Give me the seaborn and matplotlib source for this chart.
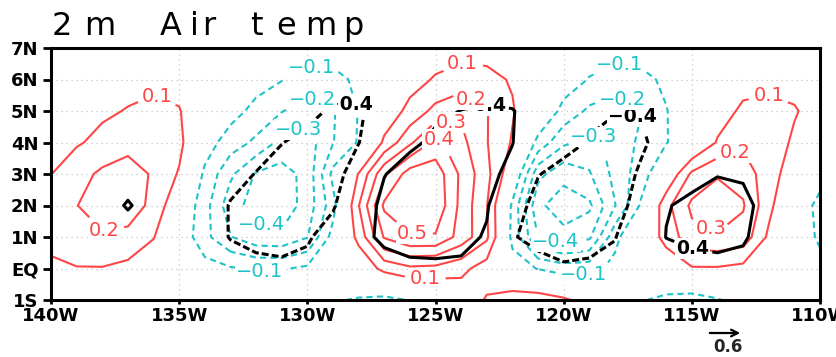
import numpy as np
import matplotlib
matplotlib.use("Agg")
import matplotlib.pyplot as plt
import seaborn as sns

sns.set_theme(style="white")
plt.rcParams["font.family"] = ["DejaVu Sans"]
plt.rcParams["axes.unicode_minus"] = True

# grid: 140W..110W every 1 deg, 1S..7N every 1 deg
lons = [-140, -139, -138, -137, -136, -135, -134, -133, -132, -131, -130,
        -129, -128, -127, -126, -125, -124, -123, -122, -121, -120,
        -119, -118, -117, -116, -115, -114, -113, -112, -111, -110]
lats = [-1, 0, 1, 2, 3, 4, 5, 6, 7]

# 2m air temp anomaly (colour contours), one row per latitude, 140W -> 110W
t2m_1s = [0.02, 0.02, 0.01, 0.00, 0.00, 0.00, 0.00, 0.00, 0.00, 0.00, -0.02, -0.09, -0.11, -0.13, -0.095, -0.05,
          0.03, 0.11, 0.16, 0.16, 0.12, 0.05, -0.03, -0.09, -0.13, -0.15, -0.11, -0.05, -0.01, 0.00, 0.00]
t2m_eq = [0.08, 0.095, 0.095, 0.07, 0.03, -0.02, -0.06, -0.09, -0.11, -0.11, -0.08, -0.04, 0.02, 0.13, 0.18, 0.17,
          0.13, 0.05, -0.05, -0.105, -0.15, -0.14, -0.07, 0.00, 0.04, 0.09, 0.09, 0.07, 0.03, -0.02, -0.06]
t2m_1n = [0.13, 0.17, 0.19, 0.18, 0.105, -0.02, -0.17, -0.295, -0.37, -0.38, -0.305, -0.06, 0.13, 0.41, 0.49, 0.49,
          0.36, 0.22, -0.13, -0.405, -0.47, -0.42, -0.13, 0.02, 0.13, 0.27, 0.29, 0.26, 0.08, -0.02, -0.12]
t2m_2n = [0.14, 0.198, 0.24, 0.24, 0.18, 0.00, -0.16, -0.36, -0.44, -0.46, -0.36, -0.14, 0.195, 0.52, 0.59, 0.58,
          0.37, 0.205, -0.12, -0.48, -0.55, -0.52, -0.305, -0.09, 0.17, 0.32, 0.36, 0.31, 0.13, -0.03, -0.13]
t2m_3n = [0.098, 0.16, 0.22, 0.24, 0.19, 0.09, -0.12, -0.28, -0.41, -0.44, -0.37, -0.07, 0.105, 0.38, 0.55, 0.56,
          0.38, 0.23, 0.02, -0.37, -0.47, -0.41, -0.27, -0.15, 0.00, 0.22, 0.29, 0.26, 0.14, 0.05, -0.06]
t2m_4n = [0.07, 0.09, 0.125, 0.17, 0.175, 0.13, -0.05, -0.15, -0.22, -0.33, -0.35, -0.205, -0.09, 0.12, 0.28, 0.43,
          0.33, 0.205, 0.09, -0.13, -0.28, -0.33, -0.27, -0.18, -0.105, -0.03, 0.11, 0.18, 0.17, 0.08, -0.02]
t2m_5n = [0.04, 0.06, 0.085, 0.105, 0.12, 0.105, 0.03, -0.06, -0.13, -0.195, -0.25, -0.21, -0.095, 0.03, 0.13, 0.23,
          0.28, 0.205, 0.11, 0.00, -0.13, -0.22, -0.26, -0.205, -0.105, -0.02, 0.05, 0.12, 0.13, 0.11, 0.05]
t2m_6n = [0.03, 0.04, 0.05, 0.07, 0.08, 0.07, 0.03, -0.02, -0.06, -0.095, -0.13, -0.13, -0.08, 0.00, 0.06, 0.11,
          0.14, 0.13, 0.09, 0.02, -0.05, -0.105, -0.14, -0.13, -0.08, -0.02, 0.03, 0.06, 0.07, 0.06, 0.03]
t2m_7n = [0.01, 0.02, 0.02, 0.03, 0.03, 0.03, 0.02, 0.00, -0.02, -0.04, -0.05, -0.05, -0.03, 0.00, 0.03, 0.05,
          0.06, 0.06, 0.04, 0.00, -0.03, -0.05, -0.06, -0.05, -0.02, 0.00, 0.02, 0.03, 0.04, 0.03, 0.02]

# second field (black +-0.4 contours)
blk_1s = [0.00, 0.00, 0.00, 0.00, 0.00, 0.00, 0.00, 0.00, 0.00, 0.00, 0.00, 0.00, 0.00, 0.00, 0.00, 0.00,
          0.00, 0.00, 0.00, 0.00, 0.00, 0.00, 0.00, 0.00, 0.00, 0.00, 0.00, 0.00, 0.00, 0.00, 0.00]
blk_eq = [0.05, 0.08, 0.10, 0.10, 0.08, 0.00, -0.10, -0.20, -0.30, -0.33, -0.28, -0.10, 0.10, 0.20, 0.30, 0.31,
          0.30, 0.15, -0.20, -0.30, -0.36, -0.34, -0.25, -0.05, 0.15, 0.28, 0.30, 0.27, 0.10, 0.00, -0.05]
blk_1n = [0.15, 0.20, 0.25, 0.28, 0.20, 0.00, -0.20, -0.42, -0.50, -0.52, -0.45, -0.20, 0.25, 0.50, 0.58, 0.60,
          0.55, 0.35, -0.38, -0.48, -0.55, -0.52, -0.42, 0.00, 0.41, 0.47, 0.50, 0.45, 0.20, 0.00, -0.10]
blk_2n = [0.20, 0.25, 0.30, 0.42, 0.30, 0.05, -0.20, -0.42, -0.58, -0.62, -0.60, -0.45, 0.05, 0.55, 0.70, 0.72,
          0.65, 0.45, -0.20, -0.55, -0.65, -0.62, -0.50, -0.30, 0.38, 0.47, 0.50, 0.47, 0.30, 0.05, -0.10]
blk_3n = [0.10, 0.15, 0.22, 0.30, 0.25, 0.10, -0.10, -0.30, -0.41, -0.55, -0.60, -0.55, -0.20, 0.38, 0.62, 0.68,
          0.60, 0.50, 0.30, -0.38, -0.55, -0.60, -0.52, -0.37, -0.05, 0.30, 0.39, 0.37, 0.25, 0.10, 0.00]
blk_4n = [0.05, 0.05, 0.08, 0.10, 0.10, 0.05, -0.05, -0.15, -0.28, -0.39, -0.50, -0.52, -0.41, -0.10, 0.30, 0.50,
          0.55, 0.50, 0.41, 0.10, -0.25, -0.43, -0.47, -0.44, -0.30, -0.05, 0.10, 0.15, 0.12, 0.05, 0.00]
blk_5n = [0.02, 0.03, 0.05, 0.06, 0.06, 0.04, 0.00, -0.08, -0.15, -0.20, -0.30, -0.45, -0.46, -0.20, 0.10, 0.30,
          0.41, 0.45, 0.42, 0.20, -0.10, -0.30, -0.39, -0.39, -0.25, -0.05, 0.05, 0.08, 0.08, 0.05, 0.00]
blk_6n = [0.00, 0.00, 0.00, 0.02, 0.03, 0.02, 0.00, -0.05, -0.10, -0.12, -0.15, -0.20, -0.15, -0.05, 0.05, 0.10,
          0.15, 0.20, 0.15, 0.05, -0.05, -0.10, -0.15, -0.20, -0.10, 0.00, 0.02, 0.03, 0.03, 0.02, 0.00]
blk_7n = [0.00, 0.00, 0.00, 0.00, 0.00, 0.00, 0.00, 0.00, 0.00, 0.00, 0.00, 0.00, 0.00, 0.00, 0.00, 0.00,
          0.00, 0.00, 0.00, 0.00, 0.00, 0.00, 0.00, 0.00, 0.00, 0.00, 0.00, 0.00, 0.00, 0.00, 0.00]

neg_levels = [-0.5, -0.4, -0.3, -0.2, -0.1]
pos_levels = [0.1, 0.2, 0.3, 0.4, 0.5]

lon_ticks = [-140, -135, -130, -125, -120, -115, -110]
lon_labels = ["140W", "135W", "130W", "125W", "120W", "115W", "110W"]
lat_labels = ["1S", "EQ", "1N", "2N", "3N", "4N", "5N", "6N", "7N"]

RED = "#ff4646"
CYAN = "#1ec3c8"

t2m = np.array([t2m_1s, t2m_eq, t2m_1n, t2m_2n, t2m_3n, t2m_4n, t2m_5n, t2m_6n, t2m_7n])
blk = np.array([blk_1s, blk_eq, blk_1n, blk_2n, blk_3n, blk_4n, blk_5n, blk_6n, blk_7n])


def fmt(v):
    return f"{v:.1f}".replace("-", "\u2212")


fig = plt.figure(figsize=(8.36, 3.57), dpi=100)
ax = fig.add_axes([51 / 836, 57 / 357, 769 / 836, 252 / 357])

cs_neg = ax.contour(lons, lats, t2m, levels=neg_levels, colors=CYAN, linewidths=1.5)
cs_neg.set_linestyle((0, (3, 2)))
cs_pos = ax.contour(lons, lats, t2m, levels=pos_levels, colors=RED, linewidths=1.5)
cs_bn = ax.contour(lons, lats, blk, levels=[-0.4], colors="black", linewidths=2.2)
cs_bn.set_linestyle((0, (2.3, 1)))
cs_bp = ax.contour(lons, lats, blk, levels=[0.4], colors="black", linewidths=2.2)

# label spots (lon, lat)
red_pts = [(-135.9, 5.4), (-137.9, 1.05), (-123.95, 6.45), (-123.5, 5.5), (-124.4, 4.7),
           (-124.9, 4.05), (-125.9, 1.0), (-125.4, -0.25), (-112.0, 5.6), (-113.4, 3.9), (-114.4, 1.05)]
cyan_pts = [(-129.85, 6.2), (-129.8, 5.35), (-130.3, 4.35), (-131.85, 1.1), (-131.85, -0.05),
            (-117.8, 6.5), (-117.8, 5.25), (-118.8, 4.2), (-120.3, 0.85), (-119.2, -0.05)]

labels = []
labels += ax.clabel(cs_bn, fmt=fmt, fontsize=13.5, inline=True, manual=[(-128.4, 5.2), (-117.3, 4.85)])
labels += ax.clabel(cs_bp, fmt=fmt, fontsize=13.5, inline=True, manual=[(-122.9, 5.2), (-115.0, 0.45)])
for t in labels:
    t.set_fontweight("bold")
labels += ax.clabel(cs_pos, fmt=fmt, fontsize=14, inline=True, manual=red_pts)
labels += ax.clabel(cs_neg, fmt=fmt, fontsize=14, inline=True, manual=cyan_pts)
for t in labels:
    t.set_rotation(0)
    t.set_bbox(dict(boxstyle="square,pad=0.05", fc="white", ec="none"))

ax.set_xlim(-140, -110)
ax.set_ylim(-1, 7)
ax.set_xticks(lon_ticks, lon_labels)
ax.set_yticks(lats, lat_labels)
ax.tick_params(axis="both", labelsize=13, width=2, colors="black")
ax.tick_params(axis="y", direction="out", length=6, pad=3, left=True)
ax.tick_params(axis="x", direction="out", length=3, pad=2, bottom=True)
for lab in ax.get_xticklabels() + ax.get_yticklabels():
    lab.set_fontweight("bold")
ax.grid(True, color="#c4c4c4", linestyle=(0, (1, 3)), linewidth=0.9)
for sp in ax.spines.values():
    sp.set_color("black")
    sp.set_linewidth(2.2)
    sp.set_visible(True)

# title, GrADS-style wide spacing
title_chars = [("2", 62), ("m", 100), ("A", 171), ("i", 194), ("r", 209),
               ("t", 256), ("e", 286), ("m", 321), ("p", 353)]
for ch, xp in title_chars:
    fig.text(xp / 836, (357 - 35) / 357, ch, fontsize=23, ha="center", va="baseline", color="black")

# vector reference arrow
ax.annotate("", xy=(743, 357 - 333), xytext=(707, 357 - 333), xycoords="figure pixels",
            textcoords="figure pixels", arrowprops=dict(arrowstyle="->", lw=1.6, color="black"))
fig.text(728 / 836, (357 - 347) / 357, "0.6", fontsize=12, fontweight="bold", ha="center", va="center")

fig.savefig("out.png", dpi=100)
